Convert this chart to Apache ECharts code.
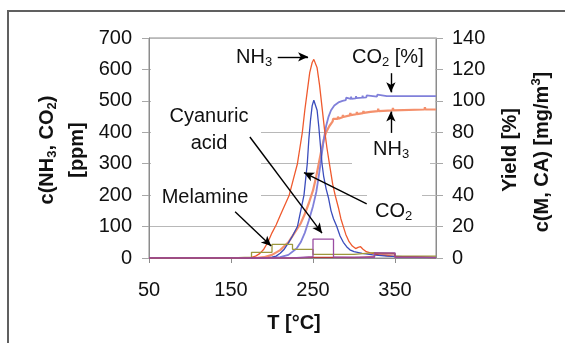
<!DOCTYPE html>
<html>
<head>
<meta charset="utf-8">
<script src="https://cdn.jsdelivr.net/npm/echarts@6/dist/echarts.min.js"></script>
<style>
html, body { margin: 0; padding: 0; background: #fff; }
#chart { width: 565px; height: 343px; }
</style>
</head>
<body>
<div id="chart"></div>
<script>
// ---- data ----
var tempTicks = [50, 150, 250, 350];

// NH3 concentration [ppm] vs T [°C]
var nh3Conc = [[50,0],[150,0],[170,0],[175,2],[180,6],[185,14],[190,28],[195,50],[200,80],[205,105],[210,135],[215,165],
    [221,200],[226,250],[231,300],[234,350],[237,400],[240,470],[243,530],[246,590],[249,622],[251,632],[253,628],
    [255,605],[258,550],[261,480],[264,410],[267,350],[270,300],[274,235],[277,200],[281,160],[284,125],[287,100],
    [290,75],[294,52],[298,38],[302,30],[305,34],[308,36],[311,28],[315,20],[320,16],[330,10],[340,8],[350,5],[370,3],[400,2]];

// CO2 concentration [ppm]
var co2Conc = [[50,0],[150,0],[190,0],[195,1],[200,3],[205,6],[210,15],[215,28],[220,48],[225,70],[231,100],[235,150],
    [239,200],[241,250],[243,300],[245,380],[247,440],[249,485],[251,502],[253,500],[255,470],[257,420],[259,360],
    [261,300],[263,260],[266,220],[269,190],[272,150],[275,125],[279,100],[283,70],[287,50],[291,36],[295,26],
    [300,20],[310,15],[323,10],[340,6],[360,4],[380,3],[400,2]];

// CO2 yield [%]
var co2Yield = [[50,0],[150,0],[200,0],[210,0.5],[220,2],[230,6],[235,10],[240,16],[245,24],[250,33],[254,42],[257,52],
    [260,63],[263,75],[266,84],[269,90],[272,94],[276,97],[281,99],[286,100],[290,100.5],[290.5,102],[291,100.8],
    [296,101.2],[296.5,102.6],[297,101.3],[302,101.6],[302.5,103],[303,101.7],[310,102],[310.5,103.3],[311,102],
    [315,102.2],[315.5,103.5],[316,102.3],[328,102.7],[328.5,104],[329,102.8],[340,103],[400,103]];

// NH3 yield [%]
var nh3Yield = [[50,0],[150,0],[180,0],[190,0.5],[200,2],[210,5],[220,10],[230,18],[235,22],[240,28],[245,35],[250,43],
    [254,52],[257,60],[260,68],[263,75],[266,80],[270,84],[274,87],[274.5,88.5],[275,87.3],[280,88.5],[280.5,90],
    [281,88.6],[286,89.6],[286.5,91],[287,89.7],[295,90.8],[295.5,92.3],[296,90.9],[303,91.5],[303.5,93],[304,91.6],
    [311,92.2],[311.5,93.6],[312,92.3],[320,93],[329,93.5],[329.5,95],[330,93.5],[347,94],[347.5,95.5],[348,94],
    [386,94.5],[386.5,96],[387,94.5],[400,94.5]];

// sampled products [mg/m3], one value per temperature bin
var binEdges  = [50, 150, 175, 200, 225, 250, 275, 300, 325, 350, 375, 400];
var melamine  = [0, 0.5, 3.6, 8.7, 5.5, 2.3, 2.3, 3.4, 3.0, 1.2, 1.2];
var otherProd = [0, 0, 0, 0, 0.4, 0.4, 0.3, 0.8, 2.6, 0.5, 0.3];
var cyanuric  = [0, 0, 0, 0, 0.8, 12, 0.6, 0.4, 3.3, 0.4, 0.3];

// ---- layout ----
var FONT = '"Liberation Sans", Arial, sans-serif';

// annotation arrows, in axis units (T, ppm)
var arrows = [
    [[207, 640], [244, 640]],
    [[345, 588], [345, 527]],
    [[345, 398], [345, 466]],
    [[173, 385], [261, 79]],
    [[155, 147], [199, 38]],
    [[315.5, 172], [239, 272]]
];

function steps(values) {
    var out = [];
    for (var i = 0; i < values.length; i++) out.push([binEdges[i], values[i]]);
    out.push([binEdges[binEdges.length - 1], values[values.length - 1]]);
    return out;
}

function curve(name, data, color, width, axis) {
    return {
        name: name, type: 'line', data: data, yAxisIndex: axis,
        symbol: 'none', smooth: false, silent: true,
        lineStyle: { color: color, width: width }
    };
}

function hist(name, values, color) {
    return {
        name: name, type: 'line', data: steps(values), yAxisIndex: 1,
        step: 'end', symbol: 'none', silent: true,
        lineStyle: { color: color, width: 1.3 }
    };
}

// subscripts drop below the baseline, superscript rises
var sub = { fontSize: 13, fontFamily: FONT, lineHeight: 12, verticalAlign: 'bottom' };
var subB = { fontSize: 13, fontFamily: FONT, fontWeight: 'bold', lineHeight: 12, verticalAlign: 'bottom' };
var supB = { fontSize: 13, fontFamily: FONT, fontWeight: 'bold', lineHeight: 16, verticalAlign: 'top' };

function label(x, y, text, align) {
    return {
        type: 'text', x: x, y: y, z: 10,
        style: {
            text: text, fill: '#111', fontSize: 20, fontFamily: FONT, lineHeight: 24,
            align: align || 'left', verticalAlign: 'middle', rich: { s: sub }
        }
    };
}

function title(x, y, text, rot) {
    return {
        type: 'text', x: x, y: y, z: 10, rotation: rot || 0,
        style: {
            text: text, fill: '#111', fontSize: 20, fontWeight: 'bold', fontFamily: FONT, lineHeight: 24,
            align: 'center', verticalAlign: 'middle', rich: { s: subB, p: supB }
        }
    };
}

function mask(x, y, w, h) {
    return { type: 'rect', z: 1, silent: true, shape: { x: x, y: y, width: w, height: h },
             style: { fill: '#fff' } };
}

var myChart = echarts.init(document.getElementById('chart'), null, { renderer: 'canvas' });

var arrowLines = arrows.map(function(a) {
    return [{ coord: a[0], symbol: 'none' }, { coord: a[1], symbol: 'arrow' }];
});

var option = {
    animation: false,
    backgroundColor: '#fff',
    grid: { left: 149, right: 129, top: 38, bottom: 85, show: true, borderColor: '#8c8c8c', borderWidth: 1 },
    xAxis: {
        type: 'value', min: 50, max: 400,
        axisLine: { show: true, lineStyle: { color: '#8c8c8c' } },
        axisTick: { show: true, customValues: tempTicks, length: 5, lineStyle: { color: '#8c8c8c' } },
        axisLabel: { customValues: tempTicks, color: '#111', fontSize: 20, fontFamily: FONT, margin: 22 },
        splitLine: { show: false }
    },
    yAxis: [{
        type: 'value', min: 0, max: 700, interval: 100,
        axisLine: { show: true, lineStyle: { color: '#8c8c8c' } },
        axisTick: { show: true, length: 7, lineStyle: { color: '#a8a8a8' } },
        axisLabel: { color: '#111', fontSize: 20, fontFamily: FONT, margin: 17 },
        splitLine: { show: true, lineStyle: { color: '#b8b8b8', width: 1 } }
    }, {
        type: 'value', min: 0, max: 140, interval: 20,
        axisLine: { show: true, lineStyle: { color: '#8c8c8c' } },
        axisTick: { show: true, length: 7, lineStyle: { color: '#a8a8a8' } },
        axisLabel: { color: '#111', fontSize: 20, fontFamily: FONT, margin: 16 },
        splitLine: { show: false }
    }],
    series: [
        curve('NH3 yield', nh3Yield, '#f4906c', 2.2, 1),
        curve('CO2 yield', co2Yield, '#8080da', 1.8, 1),
        curve('NH3', nh3Conc, '#ef5a2e', 1.3, 0),
        curve('CO2', co2Conc, '#3a4cbc', 1.3, 0),
        hist('Melamine', melamine, '#9d983c'),
        hist('other', otherProd, '#b23a3a'),
        hist('Cyanuric acid', cyanuric, '#9a4ca2'),
        {
            name: 'arrows', type: 'line', data: [], yAxisIndex: 0, silent: true,
            markLine: {
                silent: true, animation: false, symbolSize: [7, 10],
                label: { show: false },
                lineStyle: { color: '#000', width: 1.4, type: 'solid' },
                emphasis: { disabled: true },
                data: arrowLines
            }
        }
    ],
    graphic: [
        // outer frame
        { type: 'rect', z: 0, silent: true, shape: { x: 8, y: 11, width: 620, height: 400 },
          style: { fill: 'none', stroke: '#606060', lineWidth: 2 } },
        // text boxes hide parts of the gridlines
        mask(151, 60, 110, 146),
        mask(261, 60, 174, 50),
        mask(370, 120, 61, 22),
        mask(352, 155, 78, 15),
        mask(367, 188, 55, 14),
        // annotations
        label(236, 57, 'NH{s|3}'),
        label(352, 57, 'CO{s|2} [%]'),
        label(373, 149, 'NH{s|3}'),
        label(209, 116, 'Cyanuric', 'center'),
        label(209, 143, 'acid', 'center'),
        label(205, 197, 'Melamine', 'center'),
        label(375, 211, 'CO{s|2}'),
        // axis titles
        title(47, 150, 'c(NH{s|3}, CO{s|2})', Math.PI / 2),
        title(77, 150, '[ppm]', Math.PI / 2),
        title(510, 150, 'Yield [%]', Math.PI / 2),
        title(542, 152, 'c(M, CA) [mg/m{p|3}]', Math.PI / 2),
        title(294, 323, 'T [°C]')
    ]
};

myChart.setOption(option);
</script>
</body>
</html>
